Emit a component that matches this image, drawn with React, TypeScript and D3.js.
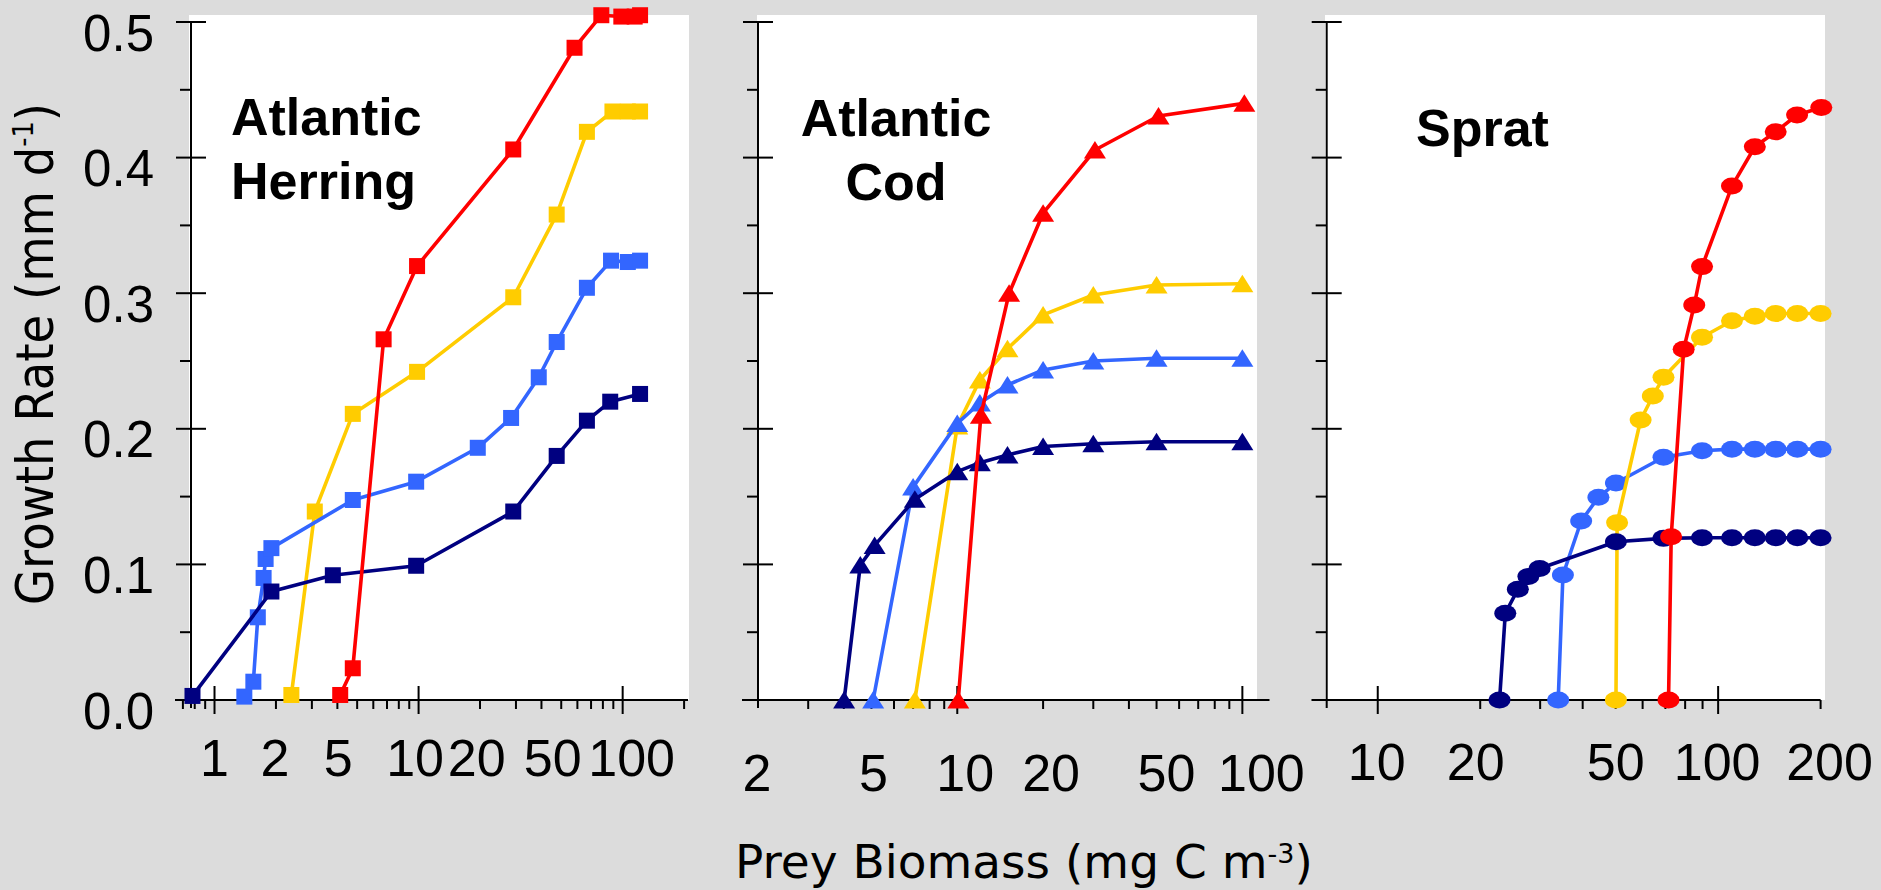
import React from 'react';
import * as d3 from 'd3';

// ---------- DATA ----------
// Atlantic Herring (squares): [prey biomass, growth rate]
const herringBlue: [number, number][] = [
  [1.4, 0.0025], [1.55, 0.0135], [1.63, 0.061], [1.74, 0.09], [1.78, 0.104], [1.9, 0.112],
  [4.76, 0.1475], [9.73, 0.161], [19.5, 0.186], [28.4, 0.208], [38.8, 0.238], [47.5, 0.264],
  [66.8, 0.304], [87.7, 0.324], [106, 0.323], [121.7, 0.324],
];
const herringYellow: [number, number][] = [
  [2.38, 0.0037], [3.1, 0.139], [4.76, 0.211], [9.83, 0.242], [29.1, 0.297], [47.5, 0.358],
  [66.8, 0.419], [89.1, 0.434], [106, 0.434], [121.7, 0.434],
];
const herringNavy: [number, number][] = [
  [0.78, 0.003], [1.9, 0.08], [3.8, 0.092], [9.73, 0.099], [29.1, 0.139], [47.5, 0.18],
  [66.8, 0.206], [86.9, 0.22], [121.7, 0.2257],
];
const herringRed: [number, number][] = [
  [4.13, 0.0037], [4.76, 0.0234], [6.74, 0.266], [9.83, 0.32], [29.1, 0.406], [58.1, 0.481],
  [78.6, 0.505], [98.5, 0.504], [114.5, 0.504], [121.7, 0.505],
];

// Atlantic Cod (triangles)
const codBlue: [number, number][] = [
  [5.07, 0], [7, 0.157], [10, 0.204], [12, 0.219], [15, 0.2323], [20, 0.2434], [30, 0.25],
  [50, 0.252], [100, 0.252],
];
const codYellow: [number, number][] = [
  [7.1, 0], [10, 0.202], [12, 0.236], [15, 0.259], [20, 0.284], [30, 0.2987], [50, 0.306],
  [100, 0.307],
];
const codNavy: [number, number][] = [
  [4.01, 0], [4.57, 0.0996], [5.13, 0.114], [7.1, 0.148], [10, 0.1684], [12, 0.175],
  [15, 0.1807], [20, 0.187], [30, 0.189], [50, 0.1905], [100, 0.1905],
];
const codRed: [number, number][] = [
  [10.08, 0], [12.1, 0.21], [15.2, 0.3], [20, 0.359], [30.4, 0.4056], [50.8, 0.4307],
  [101.6, 0.44],
];

// Sprat (circles)
const spratBlue: [number, number][] = [
  [33.9, 0], [35, 0.0922], [39.6, 0.132], [44.5, 0.1495], [50.1, 0.16], [69.1, 0.179],
  [89.7, 0.1838], [109.8, 0.185], [128.2, 0.185], [147.6, 0.185], [170.9, 0.185], [200, 0.185],
];
const spratYellow: [number, number][] = [
  [50.1, 0], [50.5, 0.1308], [59.2, 0.2065], [64.3, 0.2242], [69.1, 0.238], [89.7, 0.2675],
  [109.8, 0.2797], [128.2, 0.283], [147.6, 0.285], [170.9, 0.285], [200, 0.285],
];
const spratNavy: [number, number][] = [
  [22.8, 0], [23.7, 0.064], [25.8, 0.0816], [27.7, 0.091], [29.9, 0.097], [50.1, 0.1167],
  [69.1, 0.1192], [89.7, 0.1197], [109.8, 0.1197], [128.2, 0.1197], [147.6, 0.1197],
  [170.9, 0.1197], [200, 0.1197],
];
const spratRed: [number, number][] = [
  [71.5, 0], [72.8, 0.1204], [79.2, 0.2586], [85.1, 0.2913], [89.7, 0.3196], [109.8, 0.379],
  [128.2, 0.408], [147.6, 0.419], [170.6, 0.4314], [201, 0.437],
];

// Axis ticks and labels
const yMajorTicks = [0, 0.1, 0.2, 0.3, 0.4, 0.5];
const yMinorTicks = [0.05, 0.15, 0.25, 0.35, 0.45];
const herringXLabels = [1, 2, 5, 10, 20, 50, 100];
const codXLabels = [2, 5, 10, 20, 50, 100];
const spratXLabels = [10, 20, 50, 100, 200];
const herringMajor = [1, 10, 100];
const herringMinor = [0.7, 0.8, 0.9, 2, 3, 4, 5, 6, 7, 8, 9, 20, 30, 40, 50, 60, 70, 80, 90, 200];
const codMajor = [10, 100];
const codMinor = [3, 4, 5, 6, 7, 8, 9, 20, 30, 40, 50, 60, 70, 80, 90];
const spratMajor = [10, 100];
const spratMinor = [20, 30, 40, 50, 60, 70, 80, 90, 200];

const yAxisTitle = 'Growth Rate (mm d';
const xAxisTitle = 'Prey Biomass (mg C m';

// ---------- STYLE / LAYOUT ----------
const COLORS = { blue: '#3366FF', yellow: '#FFCC00', navy: '#000080', red: '#FF0000' };
const BG = '#dcdcdc';
const AXIS_FONT = '"Liberation Sans", Arial, sans-serif';
const TITLE_FONT = '"DejaVu Sans", Verdana, sans-serif';

const yScale = d3.scaleLinear().domain([0, 0.5]).range([700, 22]);

type Panel = {
  key: string;
  title: string[];
  titleAnchor: 'start' | 'middle';
  titleX: number;
  titleY: number[];
  domain: [number, number];
  range: [number, number];
  axisStart: number;
  axisEnd: number;
  whiteX: [number, number];
  majors: number[];
  minors: number[];
  labels: number[];
  labelDx: number[];
  labelY: number;
  marker: 'square' | 'triangle' | 'circle';
  series: { data: [number, number][]; color: string }[];
  yLabels: boolean;
};

const panels: Panel[] = [
  {
    key: 'herring', title: ['Atlantic', 'Herring'], titleAnchor: 'start', titleX: 231, titleY: [135, 199],
    domain: [0.767, 209], range: [191, 688], axisStart: 175, axisEnd: 688, whiteX: [189, 689],
    majors: herringMajor, minors: herringMinor, labels: herringXLabels,
    labelDx: [0, -1, -19, -3.5, -3.3, -8.5, 9], labelY: 776, marker: 'square',
    series: [
      { data: herringYellow, color: COLORS.yellow },
      { data: herringBlue, color: COLORS.blue },
      { data: herringNavy, color: COLORS.navy },
      { data: herringRed, color: COLORS.red },
    ],
    yLabels: true,
  },
  {
    key: 'cod', title: ['Atlantic', 'Cod'], titleAnchor: 'middle', titleX: 896, titleY: [136, 200],
    domain: [2, 124.5], range: [758, 1269.5], axisStart: 742, axisEnd: 1269.5, whiteX: [757, 1257],
    majors: codMajor, minors: codMinor, labels: codXLabels,
    labelDx: [-1, 2, 8, 8, 10, 19], labelY: 791, marker: 'triangle',
    series: [
      { data: codYellow, color: COLORS.yellow },
      { data: codBlue, color: COLORS.blue },
      { data: codNavy, color: COLORS.navy },
      { data: codRed, color: COLORS.red },
    ],
    yLabels: false,
  },
  {
    key: 'sprat', title: ['Sprat'], titleAnchor: 'start', titleX: 1416, titleY: [146],
    domain: [7.08, 200], range: [1326.7, 1820.6], axisStart: 1311.7, axisEnd: 1820.6, whiteX: [1325, 1825],
    majors: spratMajor, minors: spratMinor, labels: spratXLabels,
    labelDx: [-1, -4.5, 0, -1, 9], labelY: 780, marker: 'circle',
    series: [
      { data: spratBlue, color: COLORS.blue },
      { data: spratYellow, color: COLORS.yellow },
      { data: spratNavy, color: COLORS.navy },
      { data: spratRed, color: COLORS.red },
    ],
    yLabels: false,
  },
];

function Marker({ type, x, y, color }: { type: string; x: number; y: number; color: string }) {
  if (type === 'square') return <rect x={x - 8} y={y - 8} width={16} height={16} fill={color} />;
  if (type === 'triangle')
    return <path d={`M${x},${y - 9}L${x + 11},${y + 8.5}L${x - 11},${y + 8.5}Z`} fill={color} />;
  return <ellipse cx={x} cy={y} rx={11} ry={8.5} fill={color} />;
}

function PanelView({ p }: { p: Panel }) {
  const x = d3.scaleLog().domain(p.domain).range(p.range);
  const ax = p.range[0];
  const y0 = yScale(0);
  const line = d3
    .line<[number, number]>()
    .x((d) => x(d[0]))
    .y((d) => yScale(d[1]));
  return (
    <g>
      <rect x={p.whiteX[0]} y={15} width={p.whiteX[1] - p.whiteX[0]} height={y0 - 15} fill="#ffffff" />
      {/* y axis */}
      <line x1={ax} x2={ax} y1={yScale(0.5)} y2={y0 + 8} stroke="#000" strokeWidth={2} />
      {yMajorTicks.map((t) => (
        <line key={'ym' + t} x1={ax - 15} x2={ax + 15} y1={yScale(t)} y2={yScale(t)} stroke="#000" strokeWidth={2} />
      ))}
      {yMinorTicks.map((t) => (
        <line key={'yn' + t} x1={ax - 11} x2={ax} y1={yScale(t)} y2={yScale(t)} stroke="#000" strokeWidth={2} />
      ))}
      {p.yLabels &&
        yMajorTicks.map((t) => (
          <text key={'yl' + t} x={ax - 37} y={yScale(t) + 28.5} textAnchor="end" fontFamily={AXIS_FONT} fontSize={51} fill="#000">
            {d3.format('.1f')(t)}
          </text>
        ))}
      {/* x axis */}
      <line x1={p.axisStart} x2={p.axisEnd} y1={y0} y2={y0} stroke="#000" strokeWidth={2} />
      {p.majors.map((t) => (
        <line key={'xm' + t} x1={x(t)} x2={x(t)} y1={y0 - 14} y2={y0 + 14} stroke="#000" strokeWidth={2} />
      ))}
      {p.minors.map((t) => (
        <line key={'xn' + t} x1={x(t)} x2={x(t)} y1={y0} y2={y0 + 9} stroke="#000" strokeWidth={2} />
      ))}
      {p.labels.map((t, i) => (
        <text key={'xl' + t} x={x(t) + p.labelDx[i]} y={p.labelY} textAnchor="middle" fontFamily={AXIS_FONT} fontSize={52} fill="#000">
          {t}
        </text>
      ))}
      {/* series */}
      {p.series.map((s, si) => (
        <g key={'s' + si}>
          <path d={line(s.data) || ''} fill="none" stroke={s.color} strokeWidth={3.6} strokeLinejoin="round" />
          {s.data.map((d, di) => (
            <Marker key={di} type={p.marker} x={x(d[0])} y={yScale(d[1])} color={s.color} />
          ))}
        </g>
      ))}
      {/* title */}
      {p.title.map((t, i) => (
        <text key={'t' + i} x={p.titleX} y={p.titleY[i]} textAnchor={p.titleAnchor} fontFamily={AXIS_FONT} fontWeight="bold" fontSize={52} fill="#000">
          {t}
        </text>
      ))}
    </g>
  );
}

export default function App() {
  return (
    <svg width={1881} height={890} style={{ position: 'absolute', left: 0, top: 0, display: 'block' }}>
      <rect x={0} y={0} width={1881} height={890} fill={BG} />
      {panels.map((p) => (
        <PanelView key={p.key} p={p} />
      ))}
      <text
        transform="translate(53,605) rotate(-90)"
        fontFamily={TITLE_FONT}
        fontSize={51}
        fill="#000"
        textLength={502}
        lengthAdjust="spacingAndGlyphs"
      >
        {yAxisTitle}
        <tspan dy={-20} fontSize={28}>-1</tspan>
        <tspan dy={20}>)</tspan>
      </text>
      <text x={735} y={878} fontFamily={TITLE_FONT} fontSize={47} fill="#000">
        {xAxisTitle}
        <tspan dy={-15} fontSize={27}>-3</tspan>
        <tspan dy={15}>)</tspan>
      </text>
    </svg>
  );
}
